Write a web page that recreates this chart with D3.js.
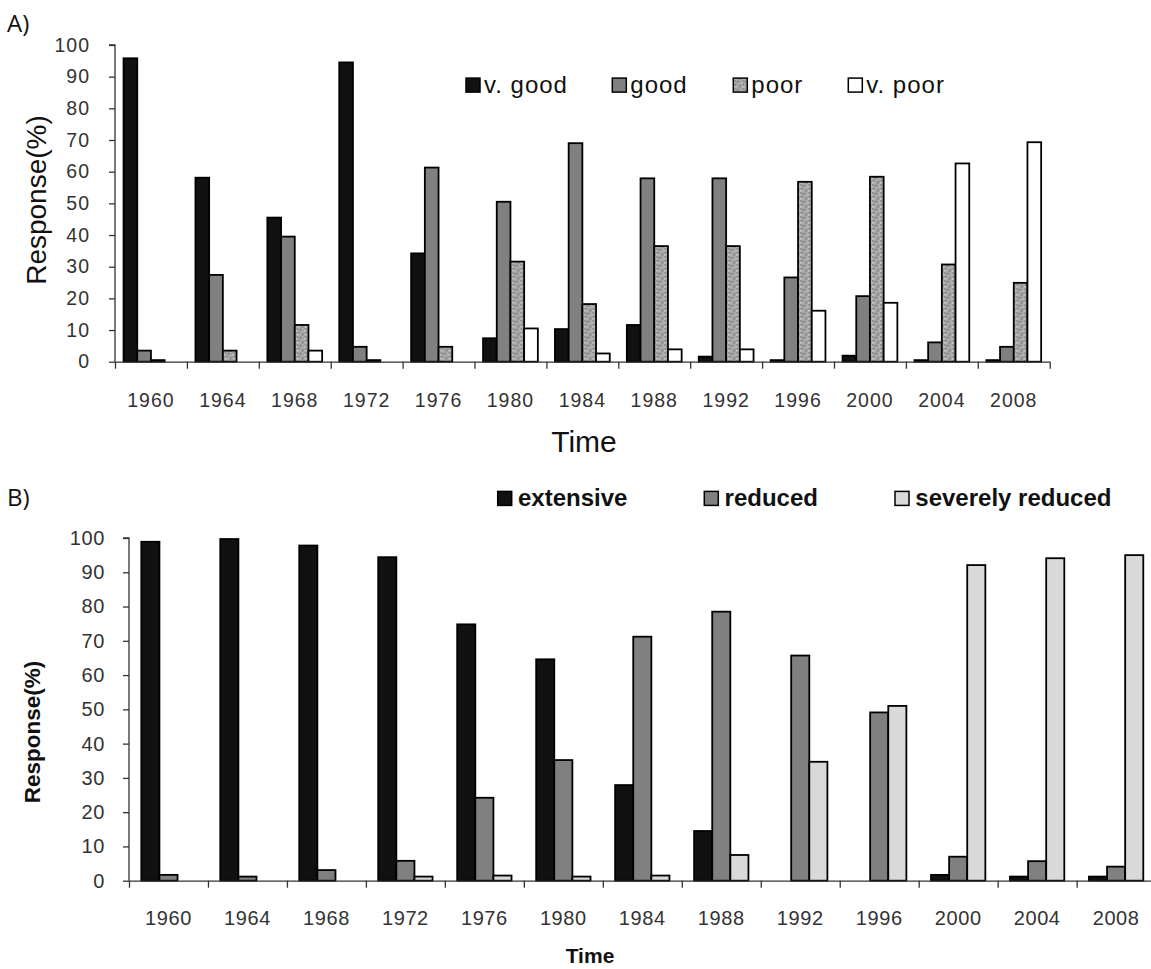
<!DOCTYPE html>
<html>
<head>
<meta charset="utf-8">
<script src="https://cdn.jsdelivr.net/npm/d3@7"></script>
<style>
  html, body { margin: 0; padding: 0; background: #fff; }
  svg { display: block; font-family: "Liberation Sans", Arial, sans-serif; }
</style>
</head>
<body>
<svg id="chart" width="1151" height="969"></svg>
<script>
// ---------- DATA ----------
const years = ["1960","1964","1968","1972","1976","1980","1984","1988","1992","1996","2000","2004","2008"];
const yTicks = [0,10,20,30,40,50,60,70,80,90,100];

// Panel A
const seriesA = ["v. good","good","poor","v. poor"];
const vGood = [95.8,58.1,45.5,94.5,34.2,7.4,10.3,11.6,1.6,0.5,1.9,0.5,0.5];
const good  = [3.5,27.4,39.5,4.7,61.3,50.5,69.0,57.9,57.9,26.6,20.7,6.1,4.7];
const poor  = [0.5,3.5,11.6,0.5,4.7,31.6,18.2,36.5,36.5,56.8,58.4,30.7,24.9];
const vPoor = [0,0,3.5,0,0,10.5,2.6,3.9,3.9,16.1,18.6,62.6,69.3];

// Panel B
const seriesB = ["extensive","reduced","severely reduced"];
const extensive = [98.9,99.7,97.8,94.4,74.8,64.6,27.9,14.5,0,0,1.7,1.2,1.2];
const reduced   = [1.7,1.2,3.1,5.8,24.2,35.2,71.2,78.5,65.7,49.1,7.0,5.7,4.1];
const severely  = [0,0,0,1.2,1.5,1.2,1.5,7.5,34.7,51.0,92.1,94.1,95.0];

// ---------- STYLE ----------
const svg = d3.select("#chart");
const defs = svg.append("defs");
// speckled texture for "poor"
const pat = defs.append("pattern").attr("id","speckle")
  .attr("patternUnits","userSpaceOnUse").attr("width",8).attr("height",8);
pat.append("rect").attr("width",8).attr("height",8).attr("fill","#a2a2a2");
[[1,1,"#7c7c7c"],[5,2,"#c4c4c4"],[3,5,"#858585"],[6,6,"#cacaca"],[0,6,"#b5b5b5"],[6,0,"#8c8c8c"],[2,3,"#bcbcbc"],[7,4,"#828282"],[4,0,"#b0b0b0"],[3,7,"#909090"]]
  .forEach(([x,y,c]) => pat.append("rect").attr("x",x).attr("y",y).attr("width",1.6).attr("height",1.6).attr("fill",c));

const fillsA = ["#111111","#808080","url(#speckle)","#ffffff"];
const fillsB = ["#111111","#808080","#d9d9d9"];

function panel(cfg) {
  const g = svg.append("g");
  const x0 = d3.scaleBand().domain(years).range([cfg.left, cfg.right]).padding(0);
  const x1 = d3.scaleBand().domain(cfg.series).range([0, x0.bandwidth()]).paddingInner(0).paddingOuter(cfg.outer);
  const y = d3.scaleLinear().domain([0,100]).range([cfg.bottom, cfg.top]);

  // bars
  const rows = years.map((yr,i) => ({yr, vals: cfg.series.map((s,k) => ({s, v: cfg.values[k][i], k}))}));
  g.selectAll("g.grp").data(rows).join("g")
    .attr("transform", d => `translate(${x0(d.yr)},0)`)
    .selectAll("rect").data(d => d.vals.filter(v => v.v > 0)).join("rect")
      .attr("x", d => x1(d.s))
      .attr("width", x1.bandwidth())
      .attr("y", d => y(d.v))
      .attr("height", d => y(0) - y(d.v))
      .attr("fill", d => cfg.fills[d.k])
      .attr("stroke", "#000")
      .attr("stroke-width", 1.8);

  // y axis
  const ya = g.append("g").attr("transform", `translate(${cfg.left},0)`)
    .call(d3.axisLeft(y).tickValues(yTicks).tickSize(6).tickPadding(cfg.yPad));
  ya.selectAll("path, line").attr("stroke","#333").attr("stroke-width",1.3);
  ya.select("path").attr("d", `M-6,${y(100)}H0V${y(0)}`);
  ya.selectAll("text").attr("font-size", cfg.tickFont).attr("fill","#333")
    .attr("font-family","'Liberation Sans', Arial, sans-serif").attr("letter-spacing", cfg.tickLS);

  // x axis: boundary ticks
  const xb = d3.scaleLinear().domain([0, years.length]).range([cfg.left, cfg.right]);
  const xa = g.append("g").attr("transform", `translate(0,${cfg.bottom})`)
    .call(d3.axisBottom(xb).tickValues(d3.range(years.length + 1)).tickFormat("").tickSize(7).tickSizeOuter(0));
  xa.selectAll("path, line").attr("stroke","#333").attr("stroke-width",1.3);

  // x labels
  const xl = g.append("g").attr("transform", `translate(0,${cfg.bottom})`)
    .call(d3.axisBottom(x0).tickSize(0).tickPadding(cfg.xPad));
  xl.select("path").remove();
  xl.selectAll("text").attr("font-size", cfg.tickFont).attr("fill","#333")
    .attr("font-family","'Liberation Sans', Arial, sans-serif").attr("letter-spacing", cfg.tickLS);

  // legend
  cfg.series.forEach((s,k) => {
    const lx = cfg.legendX[k];
    g.append("rect").attr("x", lx).attr("y", cfg.legendY - 7.3).attr("width", 14).attr("height", 14)
      .attr("fill", cfg.fills[k]).attr("stroke","#000").attr("stroke-width",1.5);
    g.append("text").attr("x", lx + cfg.legendGap).attr("y", cfg.legendY + 7.5)
      .attr("font-size", 24).attr("letter-spacing", cfg.legendLS).attr("font-weight", cfg.legendWeight)
      .attr("fill","#111").text(s);
  });

  // titles
  g.append("text").attr("x", 7).attr("y", cfg.tagY).attr("font-family","'Open Sans', 'Liberation Sans', sans-serif")
    .attr("font-size", 24).attr("fill","#111").text(cfg.tag);
  g.append("text").attr("transform", `translate(${cfg.ylabX},${cfg.ylabY}) rotate(-90)`)
    .attr("text-anchor","middle").attr("dy","0.35em").attr("font-size", cfg.ylabFont)
    .attr("font-weight", cfg.ylabWeight).attr("fill","#111").text("Response(%)");
  g.append("text").attr("x", cfg.timeX).attr("y", cfg.timeY).attr("text-anchor","middle")
    .attr("dy","0.35em").attr("font-size", cfg.timeFont).attr("font-weight", cfg.timeWeight)
    .attr("fill","#111").text("Time");
}

panel({
  series: seriesA, values: [vGood, good, poor, vPoor], fills: fillsA,
  left: 115, right: 1049.7, top: 45, bottom: 361.7, outer: 0.624,
  yPad: 19, xPad: 31, tickFont: 19.5, tickLS: "1px",
  legendX: [466, 612.3, 733.3, 848.3], legendY: 85.4, legendGap: 18, legendLS: "1px", legendWeight: "normal",
  tag: "A)", tagY: 32,
  ylabX: 36, ylabY: 200, ylabFont: 28, ylabWeight: "normal",
  timeX: 584, timeY: 441.7, timeFont: 30, timeWeight: "normal"
});

panel({
  series: seriesB, values: [extensive, reduced, severely], fills: fillsB,
  left: 129, right: 1155.6, top: 538, bottom: 880.7, outer: 0.68,
  yPad: 18, xPad: 30, tickFont: 20, tickLS: "0.6px",
  legendX: [497.7, 704.3, 895], legendY: 498.7, legendGap: 20.3, legendLS: "0px", legendWeight: "bold",
  tag: "B)", tagY: 506,
  ylabX: 31.7, ylabY: 732, ylabFont: 22.5, ylabWeight: "bold",
  timeX: 590, timeY: 956, timeFont: 21, timeWeight: "bold"
});
</script>
</body>
</html>
